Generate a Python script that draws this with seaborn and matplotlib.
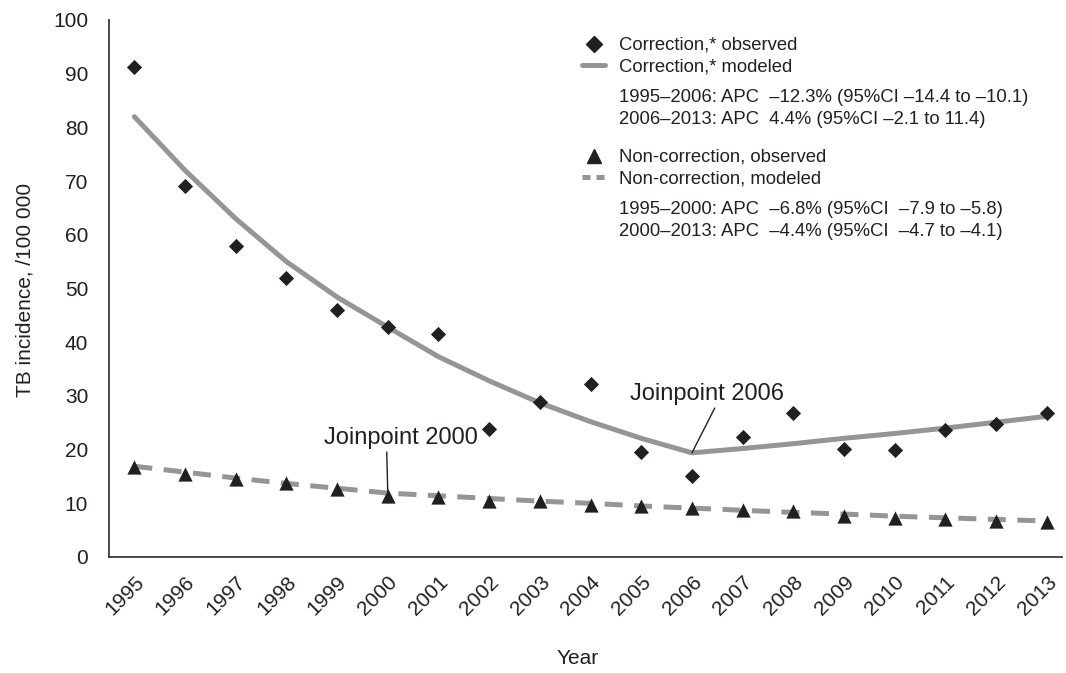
import matplotlib.pyplot as plt
import pandas as pd
import seaborn as sns
from matplotlib.lines import Line2D

years = list(range(1995, 2014))
corr_observed = [91.2, 69.1, 57.9, 52.0, 46.0, 42.8, 41.5, 23.8, 28.9, 32.2,
                 19.6, 15.1, 22.3, 26.8, 20.1, 19.9, 23.7, 24.8, 26.9]
corr_modeled = [82.0, 72.0, 63.0, 55.0, 48.4, 42.8, 37.3, 32.8, 28.7, 25.2,
                22.1, 19.4, 20.2, 21.1, 22.1, 23.0, 24.0, 25.1, 26.2]
noncorr_observed = [16.8, 15.5, 14.5, 13.8, 12.6, 11.4, 11.2, 10.4, 10.5, 9.6,
                    9.5, 9.1, 8.8, 8.5, 7.7, 7.3, 7.0, 6.7, 6.5]
noncorr_modeled = [16.9, 15.8, 14.7, 13.7, 12.8, 11.9, 11.4, 10.9, 10.4, 10.0,
                   9.5, 9.1, 8.7, 8.3, 8.0, 7.6, 7.3, 7.0, 6.7]

corr_apc = ["1995\u20132006: APC  \u201312.3% (95%CI \u201314.4 to \u201310.1)",
            "2006\u20132013: APC  4.4% (95%CI \u20132.1 to 11.4)"]
noncorr_apc = ["1995\u20132000: APC  \u20136.8% (95%CI  \u20137.9 to \u20135.8)",
               "2000\u20132013: APC  \u20134.4% (95%CI  \u20134.7 to \u20134.1)"]

df = pd.DataFrame({"year": years, "corr_obs": corr_observed, "corr_mod": corr_modeled,
                   "non_obs": noncorr_observed, "non_mod": noncorr_modeled})

ink = "#231f20"
gray = "#959595"

sns.set_theme(style="white")
plt.rcParams["font.family"] = ["Liberation Sans", "DejaVu Sans"]
plt.rcParams["text.color"] = ink
plt.rcParams["axes.labelcolor"] = ink

W, H = 1066, 673
fig = plt.figure(figsize=(W / 100, H / 100), dpi=100)
ax = fig.add_axes([109 / W, 1 - 557 / H, (1062 - 109) / W, (557 - 20) / H])

sns.lineplot(data=df, x="year", y="corr_mod", color=gray, lw=3.6, ax=ax)
sns.lineplot(data=df, x="year", y="non_mod", color=gray, lw=3.6, ax=ax)
ax.lines[-1].set_dashes((3.6, 2.3))
sns.scatterplot(data=df, x="year", y="corr_obs", marker="D", s=60, color=ink,
                edgecolor=ink, linewidth=0, ax=ax, zorder=3)
sns.scatterplot(data=df, x="year", y="non_obs", marker="^", s=105, color=ink,
                edgecolor=ink, linewidth=0, ax=ax, zorder=3)

ax.set_xlim(1994.5, 2013.3)
ax.set_ylim(0, 100)
ax.set_yticks(range(0, 101, 10))
ax.set_xticks(years)
ax.set_xticklabels([str(y) for y in years], rotation=45, ha="right",
                   rotation_mode="anchor")
ax.tick_params(axis="both", length=0, labelsize=15, colors=ink)
ax.tick_params(axis="y", pad=15)
ax.tick_params(axis="x", pad=11)
sns.despine(ax=ax)
for side in ("left", "bottom"):
    ax.spines[side].set_color("#3a3a3a")
    ax.spines[side].set_linewidth(1.3)

ax.set_xlabel("Year", fontsize=15)
ax.set_ylabel("TB incidence, /100 000", fontsize=15)
ax.xaxis.set_label_coords(0.492, -0.172)
ax.yaxis.set_label_coords(-0.078, 0.497)

# joinpoint callouts
ax.annotate("Joinpoint 2000", xy=(2000, 11.8), xytext=(2000.25, 22.2),
            ha="center", va="center", fontsize=17,
            arrowprops=dict(arrowstyle="-", color=ink, lw=1, relpos=(0.41, 0),
                            shrinkA=0, shrinkB=0))
ax.annotate("Joinpoint 2006", xy=(2006, 19.4), xytext=(2006.3, 30.4),
            ha="center", va="center", fontsize=17,
            arrowprops=dict(arrowstyle="-", color=ink, lw=1, relpos=(0.56, 0),
                            shrinkA=0, shrinkB=0))

# legend blocks with the APC notes
leg_kw = dict(loc="upper left", bbox_transform=fig.transFigure, frameon=False,
              fontsize=13.3, handlelength=1.25, handletextpad=0.76, borderpad=0,
              borderaxespad=0, labelspacing=0.24)
h1 = [Line2D([], [], marker="D", ls="none", color=ink, ms=7.7),
      Line2D([], [], color=gray, lw=3.6)]
leg1 = ax.legend(h1, ["Correction,* observed", "Correction,* modeled"],
                 bbox_to_anchor=(582 / W, 1 - 37 / H), **leg_kw)
ax.add_artist(leg1)
h2 = [Line2D([], [], marker="^", ls="none", color=ink, ms=10),
      Line2D([], [], color=gray, lw=3.6, dashes=(1.6, 1.2))]
ax.legend(h2, ["Non-correction, observed", "Non-correction, modeled"],
          bbox_to_anchor=(582 / W, 1 - 149 / H), **leg_kw)

for i, line in enumerate(corr_apc):
    fig.text(619 / W, 1 - (97 + 22 * i) / H, line, fontsize=13.3, va="center")
for i, line in enumerate(noncorr_apc):
    fig.text(619 / W, 1 - (209 + 22 * i) / H, line, fontsize=13.3, va="center")

fig.savefig("out.png", dpi=100)
